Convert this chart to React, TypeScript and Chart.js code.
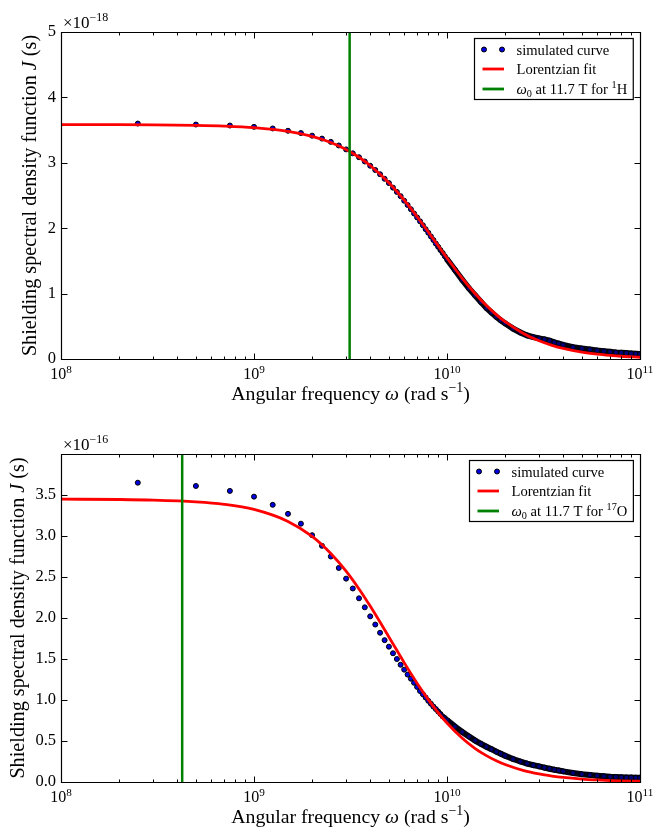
import { useEffect, useRef } from 'react';
import { Chart, registerables } from 'chart.js';

Chart.register(...registerables);

// ---------- data (ω in units of 1e9 rad s^-1) ----------
const simOmega = [
  0.25, 0.5, 0.75, 1, 1.25, 1.5, 1.75, 2, 2.25, 2.5,
  2.75, 3, 3.25, 3.5, 3.75, 4, 4.25, 4.5, 4.75, 5,
  5.25, 5.5, 5.75, 6, 6.25, 6.5, 6.75, 7, 7.25, 7.5,
  7.75, 8, 8.25, 8.5, 8.75, 9, 9.25, 9.5, 9.75, 10,
  11, 12, 13, 14, 15, 16, 17, 18, 19, 20,
  22, 24, 26, 28, 30, 32, 34, 36, 38, 40,
  45, 50, 55, 60, 65, 70, 75, 80, 85, 90, 95, 100,
];

// top panel (×1e-18 s)
const simTopJ = [
  3.6, 3.585, 3.57, 3.55, 3.525, 3.49, 3.455, 3.415, 3.37, 3.32,
  3.265, 3.205, 3.145, 3.085, 3.02, 2.955, 2.89, 2.825, 2.755, 2.69,
  2.62, 2.555, 2.49, 2.42, 2.355, 2.29, 2.225, 2.165, 2.105, 2.045,
  1.985, 1.93, 1.875, 1.82, 1.765, 1.715, 1.665, 1.62, 1.57, 1.525,
  1.36, 1.21, 1.08, 0.97, 0.87, 0.78, 0.71, 0.645, 0.59, 0.545,
  0.465, 0.405, 0.36, 0.335, 0.315, 0.3, 0.28, 0.255, 0.235, 0.215,
  0.18, 0.16, 0.145, 0.13, 0.12, 0.11, 0.1, 0.095, 0.09, 0.085, 0.08, 0.075,
];

// bottom panel (×1e-16 s)
const simBottomJ = [
  3.65, 3.61, 3.55, 3.48, 3.38, 3.27, 3.15, 3.01, 2.88, 2.75,
  2.61, 2.48, 2.36, 2.24, 2.13, 2.02, 1.92, 1.82, 1.73, 1.65,
  1.57, 1.5, 1.43, 1.37, 1.31, 1.26, 1.21, 1.16, 1.11, 1.07,
  1.03, 0.99, 0.955, 0.92, 0.89, 0.86, 0.83, 0.8, 0.78, 0.755,
  0.675, 0.61, 0.555, 0.505, 0.465, 0.43, 0.4, 0.37, 0.345, 0.32,
  0.28, 0.25, 0.225, 0.205, 0.19, 0.175, 0.162, 0.15, 0.14, 0.13,
  0.11, 0.095, 0.085, 0.077, 0.07, 0.064, 0.06, 0.057, 0.055, 0.054, 0.053, 0.052,
];

const fitOmega = [
  0.1, 0.2, 0.3, 0.5, 0.7, 1, 1.5, 2, 2.5, 3, 3.5, 4, 5, 6, 7, 8, 9, 10,
  12, 14, 16, 18, 20, 25, 30, 35, 40, 50, 60, 70, 80, 100,
];
const fitTopJ = [
  3.585, 3.584, 3.581, 3.573, 3.562, 3.538, 3.481, 3.405, 3.311, 3.204, 3.085, 2.959,
  2.694, 2.428, 2.175, 1.942, 1.731, 1.544, 1.234, 0.998, 0.817, 0.678, 0.57,
  0.387, 0.278, 0.209, 0.162, 0.105, 0.074, 0.055, 0.042, 0.027,
];
const fitBottomJ = [
  3.449, 3.445, 3.438, 3.417, 3.387, 3.324, 3.178, 2.995, 2.787, 2.571, 2.354, 2.145,
  1.769, 1.456, 1.205, 1.005, 0.846, 0.719, 0.533, 0.408, 0.322, 0.259, 0.213,
  0.139, 0.098, 0.073, 0.056, 0.036, 0.025, 0.018, 0.014, 0.009,
];

const larmorTop = 3.13; // 1H at 11.7 T
const larmorBottom = 0.4245; // 17O at 11.7 T

const xMin = 1e8;
const xMax = 1e11;
const xDecades = [8, 9, 10, 11];
const yTicksTop = [0, 1, 2, 3, 4, 5];
const yTicksBottom = [0, 0.5, 1, 1.5, 2, 2.5, 3, 3.5];

// ---------- drawing helpers ----------
const FONT = '"Liberation Serif", "Times New Roman", serif';
type Seg = { t: string; italic?: boolean; sup?: boolean; sub?: boolean };

function segFont(s: Seg, size: number) {
  const sz = s.sup || s.sub ? size * 0.7 : size;
  return `${s.italic ? 'italic ' : ''}${sz}px ${FONT}`;
}
function measureRich(ctx: CanvasRenderingContext2D, segs: Seg[], size: number) {
  let w = 0;
  for (const s of segs) {
    ctx.font = segFont(s, size);
    w += ctx.measureText(s.t).width;
  }
  return w;
}
function drawRich(
  ctx: CanvasRenderingContext2D,
  segs: Seg[],
  x: number,
  y: number,
  size: number,
  align: 'left' | 'center' | 'right'
) {
  const w = measureRich(ctx, segs, size);
  let cx = align === 'center' ? x - w / 2 : align === 'right' ? x - w : x;
  ctx.textAlign = 'left';
  ctx.textBaseline = 'alphabetic';
  ctx.fillStyle = '#000';
  for (const s of segs) {
    ctx.font = segFont(s, size);
    const dy = s.sup ? -size * 0.4 : s.sub ? size * 0.22 : 0;
    ctx.fillText(s.t, cx, y + dy);
    cx += ctx.measureText(s.t).width;
  }
  return w;
}

type Panel = {
  sim: number[];
  fit: number[];
  larmor: number;
  yMax: number;
  yTicks: number[];
  decimals: number;
  exponent: string;
  legendLast: Seg[];
  plotTop: number;
  plotBottom: number;
  height: number;
  yTitleX: number;
};

const yTitle: Seg[] = [
  { t: 'Shielding spectral density function ' },
  { t: 'J', italic: true },
  { t: ' (s)' },
];
const xTitle: Seg[] = [
  { t: 'Angular frequency ' },
  { t: 'ω', italic: true },
  { t: ' (rad s' },
  { t: '−1', sup: true },
  { t: ')' },
];

function makeConfig(p: Panel): any {
  const simData = simOmega.map((w, i) => ({ x: w * 1e9, y: p.sim[i] }));
  const fitData = fitOmega.map((w, i) => ({ x: w * 1e9, y: p.fit[i] }));
  const larmorData = [
    { x: p.larmor * 1e9, y: 0 },
    { x: p.larmor * 1e9, y: p.yMax },
  ];

  const decor = {
    id: 'decor',
    beforeDraw(chart: any) {
      const ctx = chart.ctx;
      ctx.save();
      ctx.fillStyle = '#fff';
      ctx.fillRect(0, 0, chart.width, chart.height);
      ctx.restore();
    },
    afterDraw(chart: any) {
      const ctx: CanvasRenderingContext2D = chart.ctx;
      const a = chart.chartArea;
      const xs = chart.scales.x;
      const ys = chart.scales.y;
      ctx.save();
      ctx.strokeStyle = '#000';
      ctx.lineWidth = 1.2;
      const L = Math.round(a.left) + 0.5;
      const R = Math.round(a.right) + 0.5;
      const T = Math.round(a.top) + 0.5;
      const B = Math.round(a.bottom) + 0.5;
      ctx.beginPath();
      ctx.rect(L, T, R - L, B - T);
      ctx.stroke();

      ctx.lineWidth = 1;
      ctx.beginPath();
      for (const e of xDecades) {
        for (let m = 1; m <= 9; m++) {
          const v = m * Math.pow(10, e);
          if (v > xMax * 1.0001) break;
          const px = Math.round(xs.getPixelForValue(v)) + 0.5;
          const len = m === 1 ? 6 : 3;
          ctx.moveTo(px, B);
          ctx.lineTo(px, B - len);
          ctx.moveTo(px, T);
          ctx.lineTo(px, T + len);
        }
      }
      for (const v of p.yTicks) {
        const py = Math.round(ys.getPixelForValue(v)) + 0.5;
        ctx.moveTo(L, py);
        ctx.lineTo(L + 6, py);
        ctx.moveTo(R, py);
        ctx.lineTo(R - 6, py);
      }
      ctx.stroke();

      // x tick labels 10^n
      for (const e of xDecades) {
        const px = xs.getPixelForValue(Math.pow(10, e));
        drawRich(ctx, [{ t: '10' }, { t: String(e), sup: true }], px, a.bottom + 20, 16, 'center');
      }

      // multiplier
      drawRich(ctx, [{ t: '×10' }, { t: p.exponent, sup: true }], a.left + 2, a.top - 4, 17, 'left');

      // axis titles
      drawRich(ctx, xTitle, (a.left + a.right) / 2, a.bottom + 41, 19.8, 'center');
      ctx.save();
      ctx.translate(p.yTitleX, (a.top + a.bottom) / 2);
      ctx.rotate(-Math.PI / 2);
      drawRich(ctx, yTitle, 0, 0, 20.2, 'center');
      ctx.restore();

      // legend
      const fs = 14.6;
      const items: Seg[][] = [[{ t: 'simulated curve' }], [{ t: 'Lorentzian fit' }], p.legendLast];
      let maxW = 0;
      for (const it of items) maxW = Math.max(maxW, measureRich(ctx, it, fs));
      const textOff = 42;
      const boxW = textOff + maxW + 6;
      const boxH = 61;
      const bx = Math.round(a.right - 7 - boxW) + 0.5;
      const by = Math.round(a.top + 6) + 0.5;
      ctx.fillStyle = '#fff';
      ctx.fillRect(bx, by, boxW, boxH);
      ctx.strokeStyle = '#000';
      ctx.lineWidth = 1.2;
      ctx.strokeRect(bx, by, boxW, boxH);
      const rows = [by + 11, by + 30.5, by + 50.5];
      for (const dx of [9.5, 27.5]) {
        ctx.beginPath();
        ctx.arc(bx + dx, rows[0], 2.5, 0, Math.PI * 2);
        ctx.fillStyle = '#0000e0';
        ctx.fill();
        ctx.lineWidth = 1;
        ctx.strokeStyle = '#000';
        ctx.stroke();
      }
      ctx.lineWidth = 2.8;
      ctx.strokeStyle = '#ff0000';
      ctx.beginPath();
      ctx.moveTo(bx + 8, rows[1]);
      ctx.lineTo(bx + 29.5, rows[1]);
      ctx.stroke();
      ctx.strokeStyle = '#008000';
      ctx.beginPath();
      ctx.moveTo(bx + 8, rows[2]);
      ctx.lineTo(bx + 29.5, rows[2]);
      ctx.stroke();
      items.forEach((it, i) => drawRich(ctx, it, bx + textOff, rows[i] + 5, fs, 'left'));
      ctx.restore();
    },
  };

  return {
    type: 'line',
    data: {
      datasets: [
        {
          label: 'ω0',
          data: larmorData,
          borderColor: '#008000',
          borderWidth: 2.5,
          pointRadius: 0,
          order: 1,
        },
        {
          label: 'Lorentzian fit',
          data: fitData,
          borderColor: '#ff0000',
          borderWidth: 2.8,
          pointRadius: 0,
          cubicInterpolationMode: 'monotone',
          order: 2,
        },
        {
          label: 'simulated curve',
          data: simData,
          showLine: true,
          borderWidth: 6,
          borderColor: 'rgba(0,0,0,0)',
          segment: {
            borderColor: (c: any) => (c.p0.parsed.x >= 1e10 - 1 ? '#020214' : 'rgba(0,0,0,0)'),
          },
          pointRadius: 2.5,
          pointBackgroundColor: (c: any) =>
            c.raw && c.raw.x >= 9e9 ? '#00007a' : '#0000e0',
          pointBorderColor: '#000',
          pointBorderWidth: 1,
          order: 3,
        },
      ],
    },
    options: {
      responsive: false,
      animation: false,
      devicePixelRatio: 1,
      events: [],
      layout: { padding: { left: 0, right: 14, top: p.plotTop, bottom: 0 } },
      plugins: { legend: { display: false }, tooltip: { enabled: false } },
      scales: {
        x: {
          type: 'logarithmic',
          min: xMin,
          max: xMax,
          ticks: { display: false },
          grid: { display: false },
          border: { display: false },
          afterFit: (s: any) => {
            s.height = p.height - p.plotBottom;
          },
        },
        y: {
          type: 'linear',
          min: 0,
          max: p.yMax,
          afterBuildTicks: (s: any) => {
            s.ticks = p.yTicks.map((v) => ({ value: v }));
          },
          ticks: {
            callback: (v: any) => Number(v).toFixed(p.decimals),
            font: { family: FONT, size: 16.5 },
            color: '#000',
            padding: 5,
          },
          grid: { display: false, drawTicks: false },
          border: { display: false },
          afterFit: (s: any) => {
            s.width = 61;
          },
        },
      },
    },
    plugins: [decor],
  };
}

const topPanel: Panel = {
  sim: simTopJ,
  fit: fitTopJ,
  larmor: larmorTop,
  yMax: 5,
  yTicks: yTicksTop,
  decimals: 0,
  exponent: '−18',
  legendLast: [
    { t: 'ω', italic: true },
    { t: '0', sub: true },
    { t: ' at 11.7 T for ' },
    { t: '1', sup: true },
    { t: 'H' },
  ],
  plotTop: 32,
  plotBottom: 359,
  height: 413,
  yTitleX: 36,
};

const bottomPanel: Panel = {
  sim: simBottomJ,
  fit: fitBottomJ,
  larmor: larmorBottom,
  yMax: 4.0,
  yTicks: yTicksBottom,
  decimals: 1,
  exponent: '−16',
  legendLast: [
    { t: 'ω', italic: true },
    { t: '0', sub: true },
    { t: ' at 11.7 T for ' },
    { t: '17', sup: true },
    { t: 'O' },
  ],
  plotTop: 41,
  plotBottom: 369,
  height: 414,
  yTitleX: 24,
};

function PanelChart({ panel, top }: { panel: Panel; top: number }) {
  const ref = useRef<HTMLCanvasElement | null>(null);
  useEffect(() => {
    if (!ref.current) return;
    const chart = new Chart(ref.current, makeConfig(panel));
    return () => chart.destroy();
  }, [panel]);
  return (
    <canvas
      ref={ref}
      width={654}
      height={panel.height}
      style={{ position: 'absolute', left: 0, top, width: 654, height: panel.height, display: 'block' }}
    />
  );
}

export default function App() {
  return (
    <div style={{ position: 'absolute', left: 0, top: 0, width: 654, height: 827, background: '#fff' }}>
      <PanelChart panel={topPanel} top={0} />
      <PanelChart panel={bottomPanel} top={413} />
    </div>
  );
}
